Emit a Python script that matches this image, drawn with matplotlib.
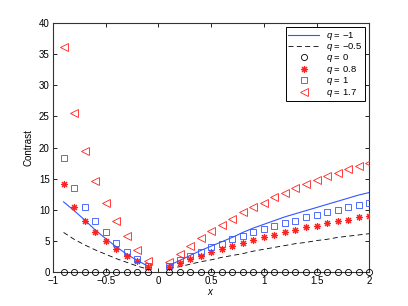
import matplotlib
matplotlib.use("Agg")
from matplotlib import pyplot as plt
import numpy as np

plt.rcParams['font.family'] = ['Liberation Sans', 'DejaVu Sans']
plt.rcParams['mathtext.fontset'] = 'custom'
plt.rcParams['mathtext.it'] = 'Liberation Sans:italic'
plt.rcParams['mathtext.rm'] = 'Liberation Sans'

# sample positions (no point at x = 0)
x_left = [-0.9, -0.8, -0.7, -0.6, -0.5, -0.4, -0.3, -0.2, -0.1]
x_right = [0.1, 0.2, 0.3, 0.4, 0.5, 0.6, 0.7, 0.8, 0.9, 1.0,
           1.1, 1.2, 1.3, 1.4, 1.5, 1.6, 1.7, 1.8, 1.9, 2.0]

# q = -1 (solid line)
qm1_left = [11.3, 9.9, 8.4, 6.8, 5.4, 4.1, 2.9, 1.9, 1.0]
qm1_right = [1.1, 1.9, 2.7, 3.5, 4.2, 4.9, 5.6, 6.4, 7.1, 7.7,
             8.3, 8.9, 9.4, 9.9, 10.4, 10.9, 11.4, 11.9, 12.4, 12.8]
# q = -0.5 (dashed line)
qm05_left = [6.4, 5.3, 4.4, 3.6, 2.9, 2.2, 1.6, 1.0, 0.5]
qm05_right = [0.6, 0.9, 1.3, 1.7, 2.0, 2.4, 2.7, 3.0, 3.4, 3.7,
              4.0, 4.3, 4.6, 4.8, 5.1, 5.3, 5.6, 5.8, 6.0, 6.2]
# q = 0
q0_left = [0, 0, 0, 0, 0, 0, 0, 0, 0]
q0_right = [0] * 20
# q = 0.8
q08_left = [14.1, 10.5, 8.3, 6.5, 5.1, 3.8, 2.7, 1.8, 0.9]
q08_right = [0.9, 1.5, 2.1, 2.6, 3.3, 3.7, 4.2, 4.7, 5.2, 5.6,
             6.0, 6.5, 6.8, 7.2, 7.5, 7.9, 8.2, 8.4, 8.8, 9.0]
# q = 1
q1_left = [18.3, 13.6, 10.5, 8.2, 6.4, 4.7, 3.3, 2.2, 1.0]
q1_right = [1.0, 1.9, 2.6, 3.3, 4.0, 4.6, 5.3, 5.8, 6.4, 6.9,
            7.4, 7.9, 8.3, 8.8, 9.2, 9.6, 10.0, 10.4, 10.8, 11.1]
# q = 1.7
q17_left = [36.2, 25.6, 19.5, 14.7, 11.2, 8.2, 5.8, 3.6, 1.8]
q17_right = [1.6, 3.0, 4.3, 5.5, 6.6, 7.6, 8.6, 9.6, 10.4, 11.2,
             12.1, 12.8, 13.5, 14.1, 14.8, 15.5, 16.0, 16.6, 17.1, 17.6]

blue = '#3355ff'
red = '#ff2020'

fig = plt.figure(figsize=(4.08, 3.06), dpi=100)
ax = fig.add_axes([0.13, 0.11, 0.775, 0.815])

ax.plot(x_left, qm1_left, '-', color=blue, lw=0.8, label=r'$q$ = $-$1')
ax.plot(x_right, qm1_right, '-', color=blue, lw=0.8)
ax.plot(x_left, qm05_left, '--', color='k', lw=0.6, dashes=(6, 4), label=r'$q$ = $-$0.5')
ax.plot(x_right, qm05_right, '--', color='k', lw=0.6, dashes=(6, 4))
ax.plot(x_left + x_right, q0_left + q0_right, 'o', mfc='none', mec='k', ms=4.4, mew=0.6,
        label=r'$q$ = 0', clip_on=False, zorder=5)
ax.plot(x_left + x_right, q08_left + q08_right, ls='none', marker=(8, 2, 0), color=red,
        ms=5, mew=0.8, label=r'$q$ = 0.8', zorder=4)
ax.plot(x_left + x_right, q1_left + q1_right, 's', mfc='none', mec=blue, ms=4.4, mew=0.6,
        label=r'$q$ = 1', zorder=4)
ax.plot(x_left + x_right, q17_left + q17_right, '<', mfc='none', mec=red, ms=5.6, mew=0.6,
        label=r'$q$ = 1.7', zorder=4)

ax.set_xlim(-1, 2)
ax.set_ylim(0, 40)
ax.set_xticks([-1, -0.5, 0, 0.5, 1, 1.5, 2])
ax.set_xticklabels(['\u22121', '\u22120.5', '0', '0.5', '1', '1.5', '2'])
ax.set_yticks(np.arange(0, 41, 5))
ax.tick_params(direction='in', length=3, width=0.6, labelsize=7, top=True, right=True, pad=2.5)
for s in ax.spines.values():
    s.set_linewidth(0.8)
    s.set_color('#333333')

ax.set_xlabel(r'$x$', fontsize=7, labelpad=1)
ax.set_ylabel('Contrast', fontsize=7, labelpad=4)

leg = ax.legend(loc='upper right', fontsize=6.8, frameon=True, fancybox=False,
                edgecolor='k', framealpha=1, borderpad=0.25, labelspacing=-0.06,
                handlelength=3.2, handletextpad=0.8, borderaxespad=0.45,
                handleheight=0.5)
leg.get_frame().set_linewidth(0.7)

fig.savefig('out.png', dpi=100)
